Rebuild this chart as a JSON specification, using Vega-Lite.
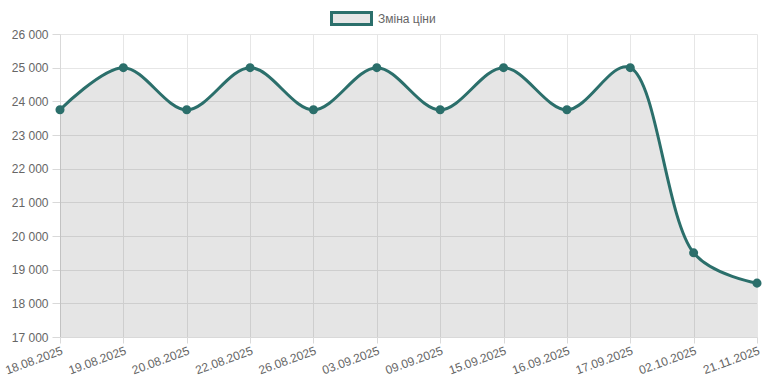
{
  "$schema": "https://vega.github.io/schema/vega-lite/v6.json",
  "width": 697,
  "height": 303,
  "autosize": {"type": "none"},
  "padding": {"left": 60, "top": 34, "right": 12, "bottom": 48},
  "background": "white",
  "data": {"values": [
    {"date": "18.08.2025", "price": 23750},
    {"date": "19.08.2025", "price": 25000},
    {"date": "20.08.2025", "price": 23750},
    {"date": "22.08.2025", "price": 25000},
    {"date": "26.08.2025", "price": 23750},
    {"date": "03.09.2025", "price": 25000},
    {"date": "09.09.2025", "price": 23750},
    {"date": "15.09.2025", "price": 25000},
    {"date": "16.09.2025", "price": 23750},
    {"date": "17.09.2025", "price": 25000},
    {"date": "02.10.2025", "price": 19500},
    {"date": "21.11.2025", "price": 18600}
  ]},
  "encoding": {
    "x": {"field": "date", "type": "ordinal", "sort": null,
      "scale": {"type": "point", "padding": 0},
      "axis": {"title": null, "labelAngle": -20, "labelAlign": "right", "labelBaseline": "top",
        "labelPadding": 2, "tickSize": 6, "grid": true}},
    "y": {"field": "price", "type": "quantitative",
      "scale": {"domain": [17000, 26000], "zero": false, "nice": false},
      "axis": {"title": null, "values": [17000, 18000, 19000, 20000, 21000, 22000, 23000, 24000, 25000, 26000],
        "labelExpr": "replace(format(datum.value, ','), ',', ' ')", "tickSize": 8, "labelPadding": 4}}
  },
  "layer": [
    {"mark": {"type": "area", "interpolate": "catmull-rom", "tension": 0.4, "color": "black", "opacity": 0.1},
      "encoding": {"y2": {"datum": 17000}}},
    {"mark": {"type": "line", "interpolate": "catmull-rom", "tension": 0.4, "strokeWidth": 3},
      "encoding": {"color": {"datum": "Зміна ціни", "type": "nominal",
        "scale": {"range": ["#2b6f6b"]},
        "legend": {"title": null, "orient": "none", "legendX": 280, "legendY": -27,
          "symbolType": "M-2,-0.6L2,-0.6L2,0.6L-2,0.6Z",
          "symbolSize": 400, "symbolFillColor": "#e6e6e6", "symbolStrokeColor": "#2b6f6b", "symbolStrokeWidth": 3,
          "labelOffset": 15, "labelFontSize": 12, "labelColor": "#666", "labelFont": "Arial"}}}},
    {"mark": {"type": "point", "filled": true, "size": 50, "color": "#2b6f6b", "opacity": 1, "stroke": "#2b6f6b", "strokeWidth": 2}}
  ],
  "config": {
    "view": {"stroke": null},
    "axis": {"gridColor": "#e6e6e6", "domainColor": "#d9d9d9", "tickColor": "#d9d9d9",
      "labelColor": "#666", "labelFont": "Arial", "labelFontSize": 12}
  }
}
